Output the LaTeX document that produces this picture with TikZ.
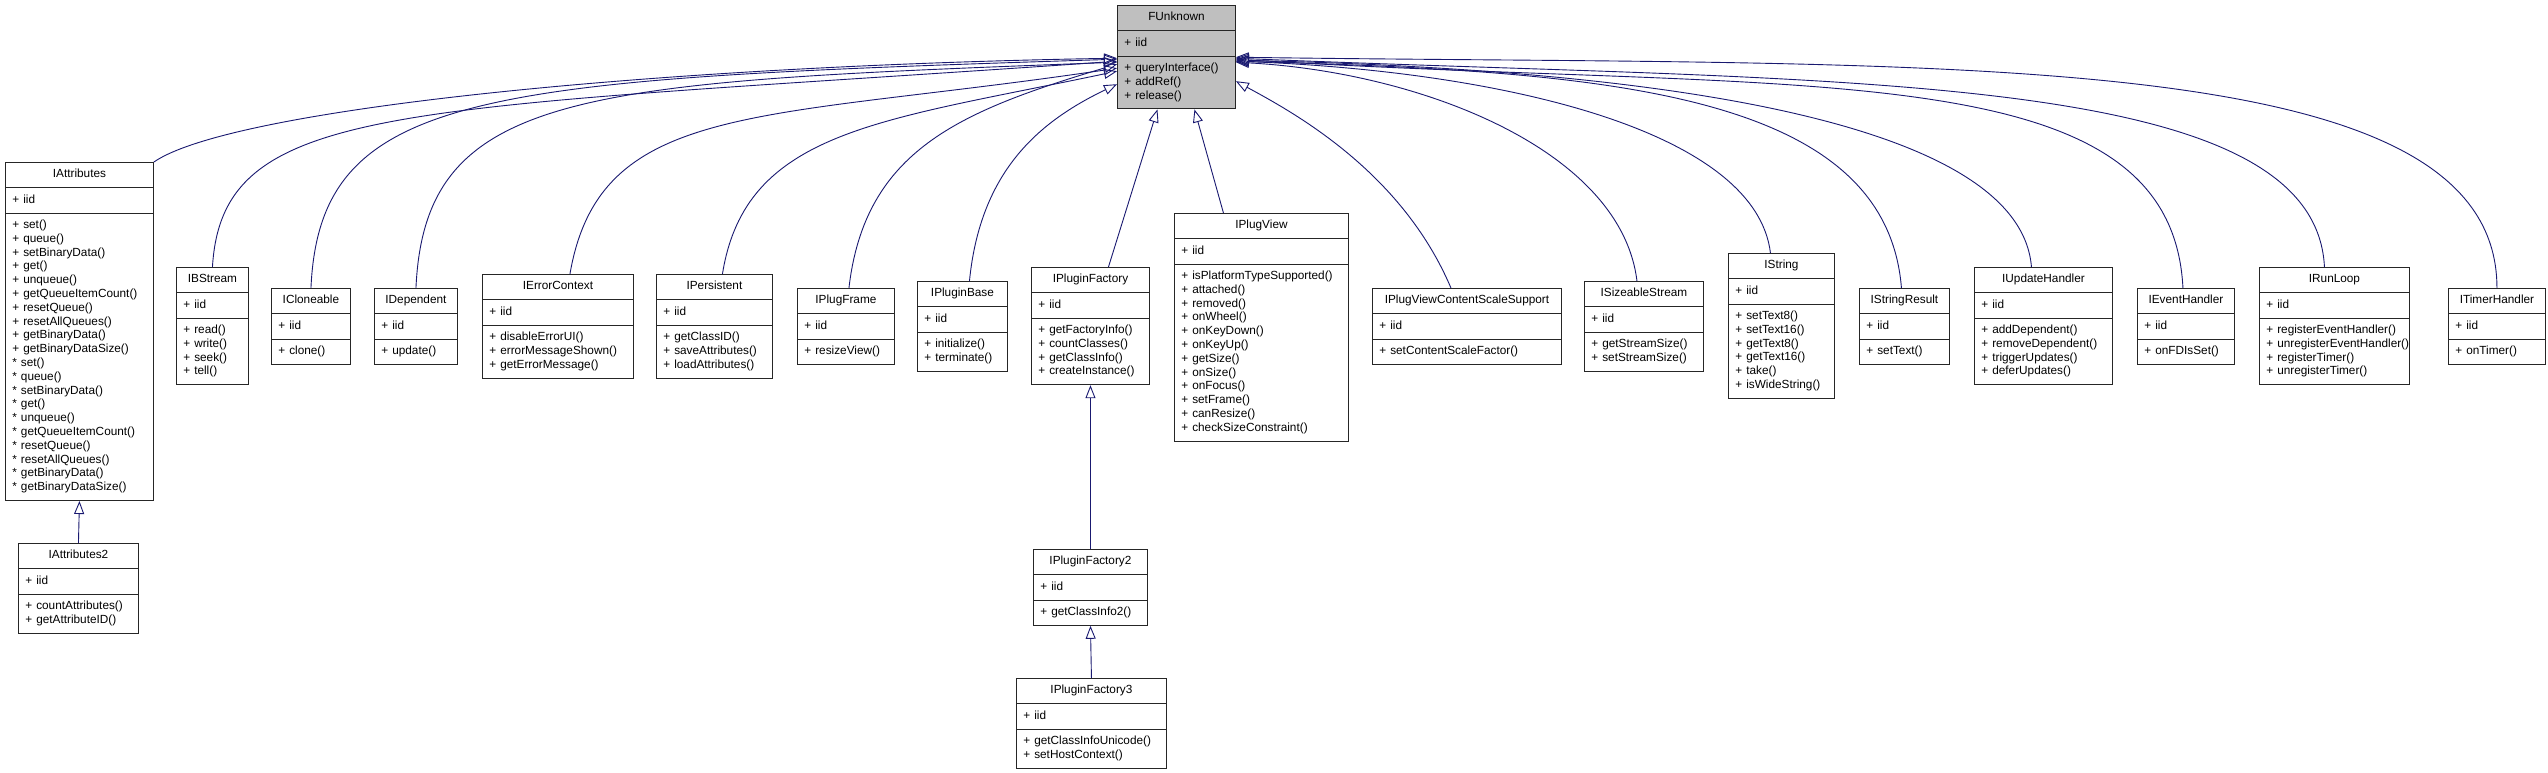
\documentclass[tikz,border=0pt]{standalone}
\usepackage{fontspec}
\setmainfont{Liberation Sans}
\usepackage{xcolor}
\usepackage{tikz}
\usetikzlibrary{arrows.meta,shapes.multipart}
\definecolor{edgeBlue}{HTML}{191970}
\definecolor{baseGray}{HTML}{BFBFBF}
\hyphenpenalty=10000
\newcommand{\cname}[1]{\hbox to\hsize{\hss\strut#1\strut\hss}}
\newcommand{\mem}[1]{\strut#1\strut}

\begin{document}
\begin{tikzpicture}[
    x=1pt,y=-1pt,
    cls/.style={rectangle split,rectangle split parts=3,draw=black!85,
                line width=0.9pt,anchor=north west,inner xsep=7pt,
                inner ysep=5.3pt,align=left,text width=#1,
                font=\fontsize{11.8}{13.8}\selectfont},
    base/.style={cls=#1,fill=baseGray},
    inh/.style={draw=edgeBlue,line width=0.9pt,
                -{Triangle[open,length=13pt,width=10pt]}}
  ]
  \path[fill=white] (0,0) rectangle (2548,773);
  %% Root interface
  \node[base=104pt] (funknown) at (1117,5)
    {\cname{FUnknown}\nodepart{two}\mem{+~iid}\nodepart{three}\mem{+~queryInterface()\\+~addRef()\\+~release()}};
  %% Direct children (left to right)
  \node[cls=134pt] (iattributes) at (5,162)
    {\cname{IAttributes}\nodepart{two}\mem{+~iid}\nodepart{three}\mem{+~set()\\+~queue()\\+~setBinaryData()\\+~get()\\+~unqueue()\\+~getQueueItemCount()\\+~resetQueue()\\+~resetAllQueues()\\+~getBinaryData()\\+~getBinaryDataSize()\\{*}~set()\\{*}~queue()\\{*}~setBinaryData()\\{*}~get()\\{*}~unqueue()\\{*}~getQueueItemCount()\\{*}~resetQueue()\\{*}~resetAllQueues()\\{*}~getBinaryData()\\{*}~getBinaryDataSize()}};
  \node[cls=58pt] (ibstream) at (176,267)
    {\cname{IBStream}\nodepart{two}\mem{+~iid}\nodepart{three}\mem{+~read()\\+~write()\\+~seek()\\+~tell()}};
  \node[cls=65pt] (icloneable) at (271,288)
    {\cname{ICloneable}\nodepart{two}\mem{+~iid}\nodepart{three}\mem{+~clone()}};
  \node[cls=69pt] (idependent) at (374,288)
    {\cname{IDependent}\nodepart{two}\mem{+~iid}\nodepart{three}\mem{+~update()}};
  \node[cls=137pt] (ierrorcontext) at (482,274)
    {\cname{IErrorContext}\nodepart{two}\mem{+~iid}\nodepart{three}\mem{+~disableErrorUI()\\+~errorMessageShown()\\+~getErrorMessage()}};
  \node[cls=102pt] (ipersistent) at (656,274)
    {\cname{IPersistent}\nodepart{two}\mem{+~iid}\nodepart{three}\mem{+~getClassID()\\+~saveAttributes()\\+~loadAttributes()}};
  \node[cls=83pt] (iplugframe) at (797,288)
    {\cname{IPlugFrame}\nodepart{two}\mem{+~iid}\nodepart{three}\mem{+~resizeView()}};
  \node[cls=76pt] (ipluginbase) at (917,281)
    {\cname{IPluginBase}\nodepart{two}\mem{+~iid}\nodepart{three}\mem{+~initialize()\\+~terminate()}};
  \node[cls=104pt] (ipluginfactory) at (1031,267)
    {\cname{IPluginFactory}\nodepart{two}\mem{+~iid}\nodepart{three}\mem{+~getFactoryInfo()\\+~countClasses()\\+~getClassInfo()\\+~createInstance()}};
  \node[cls=160pt] (iplugview) at (1174,213)
    {\cname{IPlugView}\nodepart{two}\mem{+~iid}\nodepart{three}\mem{+~isPlatformTypeSupported()\\+~attached()\\+~removed()\\+~onWheel()\\+~onKeyDown()\\+~onKeyUp()\\+~getSize()\\+~onSize()\\+~onFocus()\\+~setFrame()\\+~canResize()\\+~checkSizeConstraint()}};
  \node[cls=175pt] (iplugviewcss) at (1372,288)
    {\cname{IPlugViewContentScaleSupport}\nodepart{two}\mem{+~iid}\nodepart{three}\mem{+~setContentScaleFactor()}};
  \node[cls=105pt] (isizeablestream) at (1584,281)
    {\cname{ISizeableStream}\nodepart{two}\mem{+~iid}\nodepart{three}\mem{+~getStreamSize()\\+~setStreamSize()}};
  \node[cls=92pt] (istring) at (1728,253)
    {\cname{IString}\nodepart{two}\mem{+~iid}\nodepart{three}\mem{+~setText8()\\+~setText16()\\+~getText8()\\+~getText16()\\+~take()\\+~isWideString()}};
  \node[cls=76pt] (istringresult) at (1859,288)
    {\cname{IStringResult}\nodepart{two}\mem{+~iid}\nodepart{three}\mem{+~setText()}};
  \node[cls=124pt] (iupdatehandler) at (1974,267)
    {\cname{IUpdateHandler}\nodepart{two}\mem{+~iid}\nodepart{three}\mem{+~addDependent()\\+~removeDependent()\\+~triggerUpdates()\\+~deferUpdates()}};
  \node[cls=83pt] (ieventhandler) at (2137,288)
    {\cname{IEventHandler}\nodepart{two}\mem{+~iid}\nodepart{three}\mem{+~onFDIsSet()}};
  \node[cls=136pt] (irunloop) at (2259,267)
    {\cname{IRunLoop}\nodepart{two}\mem{+~iid}\nodepart{three}\mem{+~registerEventHandler()\\+~unregisterEventHandler()\\+~registerTimer()\\+~unregisterTimer()}};
  \node[cls=83pt] (itimerhandler) at (2448,288)
    {\cname{ITimerHandler}\nodepart{two}\mem{+~iid}\nodepart{three}\mem{+~onTimer()}};
  %% Deeper levels
  \node[cls=106pt] (iattributes2) at (18,543)
    {\cname{IAttributes2}\nodepart{two}\mem{+~iid}\nodepart{three}\mem{+~countAttributes()\\+~getAttributeID()}};
  \node[cls=100pt] (ipluginfactory2) at (1033,549)
    {\cname{IPluginFactory2}\nodepart{two}\mem{+~iid}\nodepart{three}\mem{+~getClassInfo2()}};
  \node[cls=136pt] (ipluginfactory3) at (1016,678)
    {\cname{IPluginFactory3}\nodepart{two}\mem{+~iid}\nodepart{three}\mem{+~getClassInfoUnicode()\\+~setHostContext()}};
  %% Inheritance, left side
  \draw[inh] (iattributes.north east) .. controls +(77,-53) and +(-467,8) .. ([yshift=-1pt]funknown.west);
  \draw[inh] (ibstream.north) .. controls +(10,-167) and +(-717,50) .. ([yshift=-4pt]funknown.west);
  \draw[inh] (icloneable.north) .. controls +(9,-198) and +(-637,20) .. ([yshift=-2pt]funknown.west);
  \draw[inh] (idependent.north) .. controls +(9,-198) and +(-537,20) .. ([yshift=-5pt]funknown.west);
  \draw[inh] ([xshift=12pt]ierrorcontext.north) .. controls +(30,-174) and +(-357,53) .. ([yshift=-11pt]funknown.west);
  \draw[inh] ([xshift=8pt]ipersistent.north) .. controls +(23,-144) and +(-237,50) .. ([yshift=-14pt]funknown.west);
  \draw[inh] ([xshift=3pt]iplugframe.north) .. controls +(16,-138) and +(-157,47) .. ([yshift=-7pt]funknown.west);
  \draw[inh] ([xshift=7pt]ipluginbase.north) .. controls +(11,-111) and +(-77,37) .. ([yshift=-27pt]funknown.west);
  \draw[inh] ([xshift=18pt]ipluginfactory.north) -- ([xshift=-19pt]funknown.south);
  \draw[inh] ([xshift=-38pt]iplugview.north) -- ([xshift=18pt]funknown.south);
  %% Inheritance, right side
  \draw[inh] ([xshift=-16pt]iplugviewcss.north) .. controls +(-50,-118) and +(55,30) .. ([yshift=-24pt]funknown.east);
  \draw[inh] ([xshift=-7pt]isizeablestream.north) .. controls +(-16,-131) and +(185,10) .. ([yshift=-5pt]funknown.east);
  \draw[inh] ([xshift=-11pt]istring.north) .. controls +(-15,-123) and +(265,10) .. ([yshift=-4pt]funknown.east);
  \draw[inh] ([xshift=-3pt]istringresult.north) .. controls +(-16,-198) and +(365,10) .. ([yshift=-4pt]funknown.east);
  \draw[inh] ([xshift=-12pt]iupdatehandler.north) .. controls +(-11,-137) and +(465,10) .. ([yshift=-3pt]funknown.east);
  \draw[inh] ([xshift=-3pt]ieventhandler.north) .. controls +(-12,-238) and +(565,35) .. ([yshift=-2pt]funknown.east);
  \draw[inh] ([xshift=-10pt]irunloop.north) .. controls +(-10,-200) and +(600,25) .. ([yshift=-1pt]funknown.east);
  \draw[inh] (itimerhandler.north) .. controls +(0,-248) and +(700,10) .. (funknown.east);
  %% Deeper inheritance
  \draw[inh] (iattributes2.north) -- (iattributes.south);
  \draw[inh] (ipluginfactory2.north) -- (ipluginfactory.south);
  \draw[inh] (ipluginfactory3.north) -- (ipluginfactory2.south);
\end{tikzpicture}
\end{document}
